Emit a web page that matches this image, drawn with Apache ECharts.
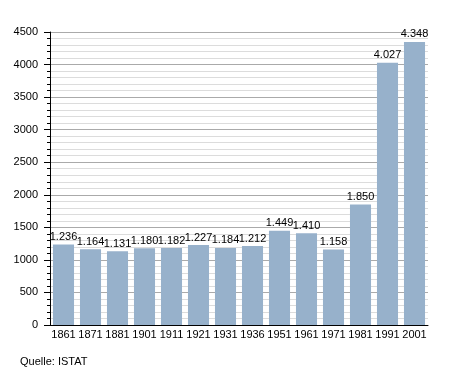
<!DOCTYPE html>
<html><head><meta charset="utf-8">
<script src="https://cdn.jsdelivr.net/npm/echarts@6/dist/echarts.min.js"></script>
<style>html,body{margin:0;padding:0;background:#fff}#c{width:455px;height:373px}</style>
</head><body><div id="c"></div>
<script>
const categories = ['1861','1871','1881','1901','1911','1921','1931','1936','1951','1961','1971','1981','1991','2001'];
const population = [1236,1164,1131,1180,1182,1227,1184,1212,1449,1410,1158,1850,4027,4348];
const yTicks = [0,500,1000,1500,2000,2500,3000,3500,4000,4500];
const fmt = v => String(v).replace(/\B(?=(\d{3})+(?!\d))/g, '.');
const chart = echarts.init(document.getElementById('c'));
chart.setOption({
  animation:false,
  textStyle:{fontFamily:'Liberation Sans, Arial, sans-serif'},
  graphic:[{type:'text',left:20,top:356,style:{text:'Quelle: ISTAT',fontSize:11,fill:'#000',fontFamily:'Liberation Sans, Arial, sans-serif'}}],
  grid:{left:50,right:27,top:32,bottom:48,containLabel:false},
  xAxis:{type:'category',data:categories,
    axisLine:{lineStyle:{color:'#000',width:1}},
    axisTick:{show:false},
    axisLabel:{color:'#000',fontSize:11,margin:4,interval:0}},
  yAxis:{type:'value',min:yTicks[0],max:yTicks[yTicks.length-1],interval:500,
    axisLine:{show:true,lineStyle:{color:'#000'}},
    axisTick:{show:true,length:6,lineStyle:{color:'#000'}},
    minorTick:{show:true,splitNumber:5,length:3,lineStyle:{color:'#000'}},
    splitLine:{lineStyle:{color:'#aaa'}},
    minorSplitLine:{show:true,lineStyle:{color:'#dcdcdc'}},
    axisLabel:{color:'#000',fontSize:11,margin:12,formatter:v=>String(v)}},
  series:[{type:'bar',data:population,barCategoryGap:'22%',
    itemStyle:{color:'#97b1cb'},
    label:{show:true,position:'top',distance:2,color:'#000',fontSize:11,formatter:p=>fmt(p.value)}}]
});
</script></body></html>
